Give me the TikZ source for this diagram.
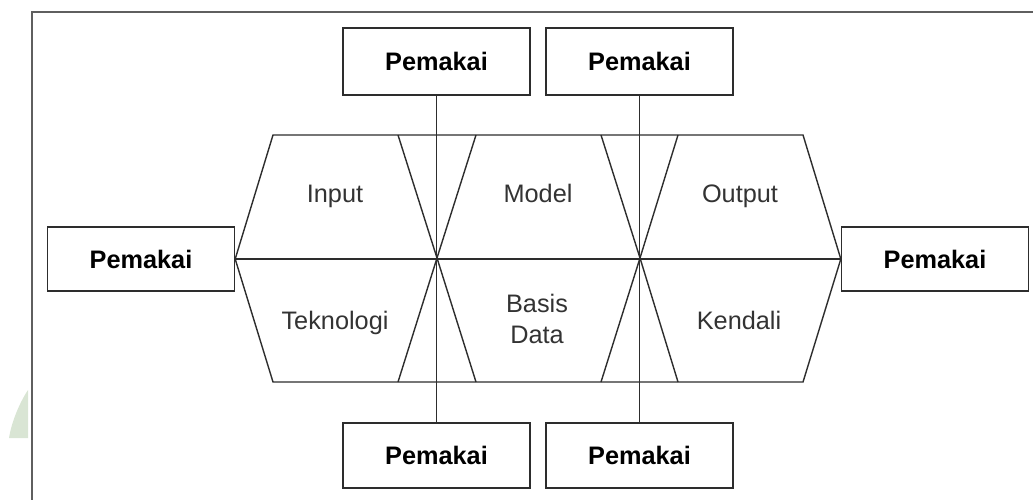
\documentclass[tikz,border=0pt]{standalone}
\usepackage{fontspec}
\setmainfont{Liberation Sans}
\definecolor{inkgray}{RGB}{45,45,45}
\definecolor{framegray}{RGB}{95,95,95}
\definecolor{markgreen}{RGB}{217,229,212}
\tikzset{
    userbox/.style={draw=inkgray, line width=0.8pt, inner sep=0pt,
        minimum width=3.74cm, font=\fontsize{14.4}{17}\selectfont\bfseries},
    part/.style={align=center, font=\fontsize{14.4}{18}\selectfont, text=black!80}
}

\begin{document}
\begin{tikzpicture}[x=0.02cm, y=-0.02cm]
    \useasboundingbox (0,0) rectangle (1033,500);
    % outer frame (only top and left edges visible)
    \draw[framegray, line width=1pt] (1033,12) -| (32,500);
    \fill[markgreen] (28,390) .. controls (18,405) and (11,425) .. (9,438)
        -- (28,438) -- cycle;

    \node[userbox, minimum height=1.34cm] (pt1) at (436.5,61.5)
            {Pemakai};
    \node[userbox, minimum height=1.34cm] (pt2) at (639.5,61.5)
            {Pemakai};
    \node[userbox, minimum height=1.28cm] (pl) at (141,259)
            {Pemakai};
    \node[userbox, minimum height=1.28cm] (pr) at (935,259)
            {Pemakai};
    \node[userbox, minimum height=1.3cm] (pb1) at (436.5,455.5)
            {Pemakai};
    \node[userbox, minimum height=1.3cm] (pb2) at (639.5,455.5)
            {Pemakai};

    \coordinate (x1) at (437,258);
    \coordinate (x2) at (640,258);

    % hexagon with the two bow ties
    \draw[inkgray, line width=0.8pt]
        (pl.east) -- (273,135) -- (803,135) -- (pr.west)
        -- (803,382) -- (273,382) -- cycle;
    \draw[inkgray, line width=0.8pt] (pl.east) -- (pr.west);
    \draw[inkgray, line width=0.8pt] (398,135) -- (x1) -- (476,135);
    \draw[inkgray, line width=0.8pt] (398,382) -- (x1) -- (476,382);
    \draw[inkgray, line width=0.8pt] (601,135) -- (x2) -- (678,135);
    \draw[inkgray, line width=0.8pt] (601,382) -- (x2) -- (678,382);
    \draw[inkgray, line width=0.8pt] (pt1.south) -- (pb1.north);
    \draw[inkgray, line width=0.8pt] (pt2.south) -- (pb2.north);

    \node[part, anchor=base] (input) at (335,202) {Input};
    \node[part, anchor=base] (model) at (538,202) {Model};
    \node[part, anchor=base] (output) at (740,202) {Output};
    \node[part, anchor=base] (tekno) at (335,329) {Teknologi};
    \node[part] (basis) at (537,319) {Basis\\Data};
    \node[part, anchor=base] (kendali) at (739,329) {Kendali};
\end{tikzpicture}
\end{document}
